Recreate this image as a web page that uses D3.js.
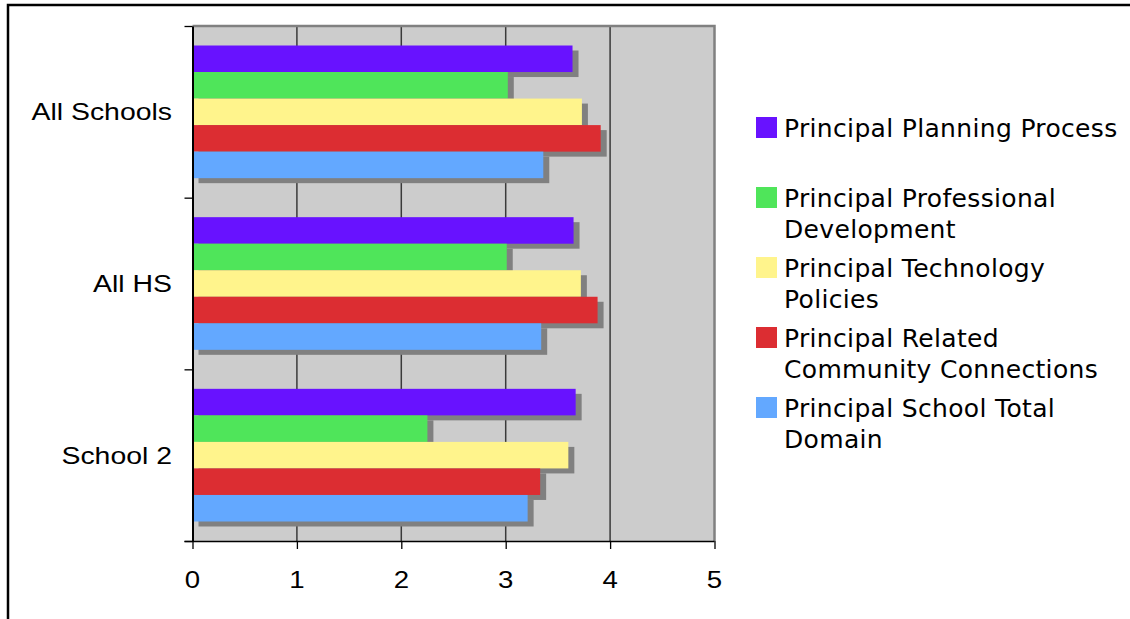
<!DOCTYPE html>
<html>
<head>
<meta charset="utf-8">
<script src="https://cdn.jsdelivr.net/npm/d3@7"></script>
<style>
  body { margin: 0; background: #fff; }
  svg { display: block; }
</style>
</head>
<body>
<div id="chart"></div>
<script>
// data
const categories = ["All Schools", "All HS", "School 2"];
const series = [
  "Principal Planning Process",
  "Principal Professional Development",
  "Principal Technology Policies",
  "Principal Related Community Connections",
  "Principal School Total Domain"
];
const planning     = [3.64, 3.65, 3.67];
const professional = [3.02, 3.01, 2.25];
const technology   = [3.73, 3.72, 3.60];
const community    = [3.91, 3.88, 3.33];
const totalDomain  = [3.36, 3.34, 3.21];
const xTicks = [0, 1, 2, 3, 4, 5];
const legendLines = [
  ["Principal Planning Process"],
  ["Principal Professional", "Development"],
  ["Principal Technology", "Policies"],
  ["Principal Related", "Community Connections"],
  ["Principal School Total", "Domain"]
];
const colors = ["#6812ff", "#4fe55a", "#fff48c", "#dc2d32", "#63a8ff"];

const values = [planning, professional, technology, community, totalDomain];

const W = 1130, H = 619;
const pLeft = 192.5, pRight = 714.5, pTop = 26, pBottom = 541;

const svg = d3.select("#chart")
  .append("svg")
  .attr("width", W)
  .attr("height", H);

// outer frame
svg.append("rect")
  .attr("x", 8).attr("y", 5)
  .attr("width", 1200).attr("height", 700)
  .attr("fill", "none")
  .attr("stroke", "#000")
  .attr("stroke-width", 2.5);

const x = d3.scaleLinear().domain([0, 5]).range([pLeft, pRight]);
const y0 = d3.scaleBand().domain(categories).range([pTop, pBottom]);
const y1 = d3.scaleBand().domain(series)
  .range([19.5, y0.bandwidth() - 19.5]);
const yEdge = d3.scaleLinear().domain([0, categories.length]).range([pTop, pBottom]);

// plot area
svg.append("rect")
  .attr("x", pLeft).attr("y", pTop)
  .attr("width", pRight - pLeft).attr("height", pBottom - pTop)
  .attr("fill", "#cccccc");

// gridlines
svg.append("g")
  .selectAll("line")
  .data(xTicks.slice(1, -1))
  .enter()
  .append("line")
  .attr("x1", d => x(d)).attr("x2", d => x(d))
  .attr("y1", pTop).attr("y2", pBottom)
  .attr("stroke", "#3a3a3a")
  .attr("stroke-width", 1.5);

// plot border (top + right)
svg.append("path")
  .attr("d", `M${pLeft},${pTop}H${pRight}V${pBottom}`)
  .attr("fill", "none")
  .attr("stroke", "#808080")
  .attr("stroke-width", 2.5);

const rows = [];
categories.forEach((c, i) => {
  series.forEach((s, j) => {
    rows.push({ cat: c, ser: s, j: j, v: values[j][i] });
  });
});

// shadows first, then the bars
svg.append("g")
  .selectAll("rect")
  .data(rows)
  .enter()
  .append("rect")
  .attr("x", x(0) + 6)
  .attr("y", d => y0(d.cat) + y1(d.ser) + 5)
  .attr("width", d => x(d.v) - x(0))
  .attr("height", y1.bandwidth())
  .attr("fill", "#808080");

svg.append("g")
  .selectAll("rect")
  .data(rows)
  .enter()
  .append("rect")
  .attr("x", x(0))
  .attr("y", d => y0(d.cat) + y1(d.ser))
  .attr("width", d => x(d.v) - x(0))
  .attr("height", y1.bandwidth())
  .attr("fill", d => colors[d.j]);

// x axis
const xAxis = svg.append("g")
  .attr("transform", `translate(0,${pBottom})`)
  .call(d3.axisBottom(x).tickValues(xTicks).tickSize(8).tickSizeOuter(0).tickFormat(""));
xAxis.select(".domain").attr("stroke", "#000").attr("stroke-width", 1.5)
  .attr("d", `M${pLeft - 8},0.5H${pRight}`);
xAxis.selectAll(".tick line").attr("stroke", "#000").attr("stroke-width", 1.3);

svg.append("g")
  .selectAll("text")
  .data(xTicks)
  .enter()
  .append("text")
  .attr("transform", d => `translate(${x(d)},588) scale(1.15,1)`)
  .attr("text-anchor", "middle")
  .style("font-family", "'Liberation Sans', Arial, sans-serif")
  .style("font-size", "24px")
  .attr("fill", "#000")
  .text(d => d);

// y axis
const yAxis = svg.append("g")
  .attr("transform", `translate(${pLeft},0)`)
  .call(d3.axisLeft(yEdge).tickValues(d3.range(categories.length + 1)).tickSize(8).tickSizeOuter(0).tickFormat(""));
yAxis.select(".domain").attr("stroke", "#000").attr("stroke-width", 2);
yAxis.selectAll(".tick line").attr("stroke", "#000").attr("stroke-width", 1.3);

svg.append("g")
  .selectAll("text")
  .data(categories)
  .enter()
  .append("text")
  .attr("transform", d => `translate(172,${y0(d) + y0.bandwidth() / 2 + 8.5}) scale(1.16,1)`)
  .attr("text-anchor", "end")
  .style("font-family", "'Liberation Sans', Arial, sans-serif")
  .style("font-size", "24.5px")
  .attr("fill", "#000")
  .text(d => d);

// legend
const legend = svg.append("g");
legendLines.forEach((lines, i) => {
  const ly = 117 + i * 70;
  legend.append("rect")
    .attr("x", 756).attr("y", ly)
    .attr("width", 21).attr("height", 21)
    .attr("fill", colors[i]);
  const t = legend.append("text")
    .attr("x", 784).attr("y", ly + 20)
    .style("font-family", "'DejaVu Sans', Verdana, sans-serif")
    .style("font-size", "25px")
    .style("letter-spacing", "0.33px")
    .attr("fill", "#000");
  lines.forEach((s, k) => {
    t.append("tspan").attr("x", 784).attr("dy", k === 0 ? 0 : 30.5).text(s);
  });
});
</script>
</body>
</html>
